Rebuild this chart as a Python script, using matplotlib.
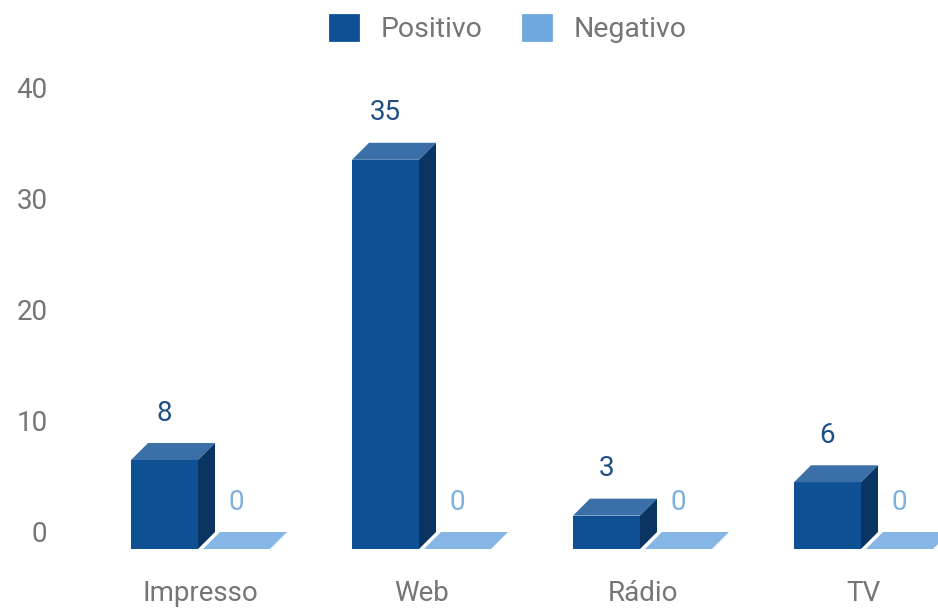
import matplotlib
matplotlib.use('Agg')
import matplotlib.pyplot as plt
from matplotlib.patches import Polygon, Patch
from matplotlib.transforms import ScaledTranslation

plt.rcParams['font.family'] = ['Roboto', 'DejaVu Sans']

# data
categories = ['Impresso', 'Web', 'Rádio', 'TV']
positivo = [8, 35, 3, 6]
negativo = [0, 0, 0, 0]
series_names = ['Positivo', 'Negativo']

# colours: front, top, side
POS = ('#0d5093', '#3a6fa8', '#0a3563')
NEG = ('#6fa8dc', '#86b6e6', '#4f86bb')
POS_LABEL = '#1d4f86'
NEG_LABEL = '#7eb0df'
GRAY = '#757575'

W_PX, H_PX, DPI = 938, 610, 100
fig = plt.figure(figsize=(W_PX / DPI, H_PX / DPI), dpi=DPI)

# axes placement in pixels
ax_left, ax_right = 60, 938
ax_bottom, ax_top = 61, 535          # from bottom of figure
cat_px0, cat_step = 200.5, 221.0     # first category centre (px from left), spacing
px_per_unit = 11.12
ax = fig.add_axes([ax_left / W_PX, ax_bottom / H_PX,
                   (ax_right - ax_left) / W_PX, (ax_top - ax_bottom) / H_PX])
ax.set_xlim((ax_left - cat_px0) / cat_step, (ax_right - cat_px0) / cat_step)
ax.set_ylim(0, (ax_top - ax_bottom) / px_per_unit)

depth_px = 17
dx = depth_px / cat_step
dy = depth_px / px_per_unit
bar_w = 67 / cat_step
gap = 5 / cat_step
offset = gap / 2 + bar_w / 2


def bar3d(xc, v, cols, label_col):
    x0, x1 = xc - bar_w / 2, xc + bar_w / 2
    ax.bar(xc, v, bar_w, color=cols[0], linewidth=0, zorder=2)
    ax.add_patch(Polygon([(x0, v), (x1, v), (x1 + dx, v + dy), (x0 + dx, v + dy)],
                         closed=True, facecolor=cols[1], edgecolor='none', zorder=3))
    if v > 0:
        ax.add_patch(Polygon([(x1, 0), (x1 + dx, dy), (x1 + dx, v + dy), (x1, v)],
                             closed=True, facecolor=cols[2], edgecolor='none', zorder=3))
    ax.annotate(f'{v}', xy=(xc, v), xytext=(0, 47), textcoords='offset pixels',
                ha='center', va='center', fontsize=20, color=label_col)


for i, (p, n) in enumerate(zip(positivo, negativo)):
    bar3d(i - offset, p, POS, POS_LABEL)
    bar3d(i + offset, n, NEG, NEG_LABEL)

ax.set_xticks(range(len(categories)))
ax.set_xticklabels(categories, fontsize=20, color=GRAY)
ax.set_yticks([0, 10, 20, 30, 40])
ax.set_yticklabels(['0', '10', '20', '30', '40'], fontsize=20, color=GRAY)
ax.tick_params(axis='both', length=0)
ax.tick_params(axis='x', pad=22)
ax.tick_params(axis='y', pad=9)
# y labels sit on the back plane of the bars
shift = ScaledTranslation(0, depth_px / DPI, fig.dpi_scale_trans)
for lab in ax.get_yticklabels():
    lab.set_transform(lab.get_transform() + shift)
for s in ax.spines.values():
    s.set_visible(False)

handles = [Patch(facecolor=POS[0], edgecolor=POS[0], linewidth=2, joinstyle='round'),
           Patch(facecolor=NEG[0], edgecolor=NEG[0], linewidth=2, joinstyle='round')]
fig.legend(handles, series_names, loc='upper center', bbox_to_anchor=(0.542, 1.018),
           ncol=2, frameon=False, fontsize=20.5, labelcolor=GRAY,
           handlelength=1.0, handleheight=1.0, handletextpad=0.8, columnspacing=1.4)

fig.savefig('out.png', dpi=DPI)
